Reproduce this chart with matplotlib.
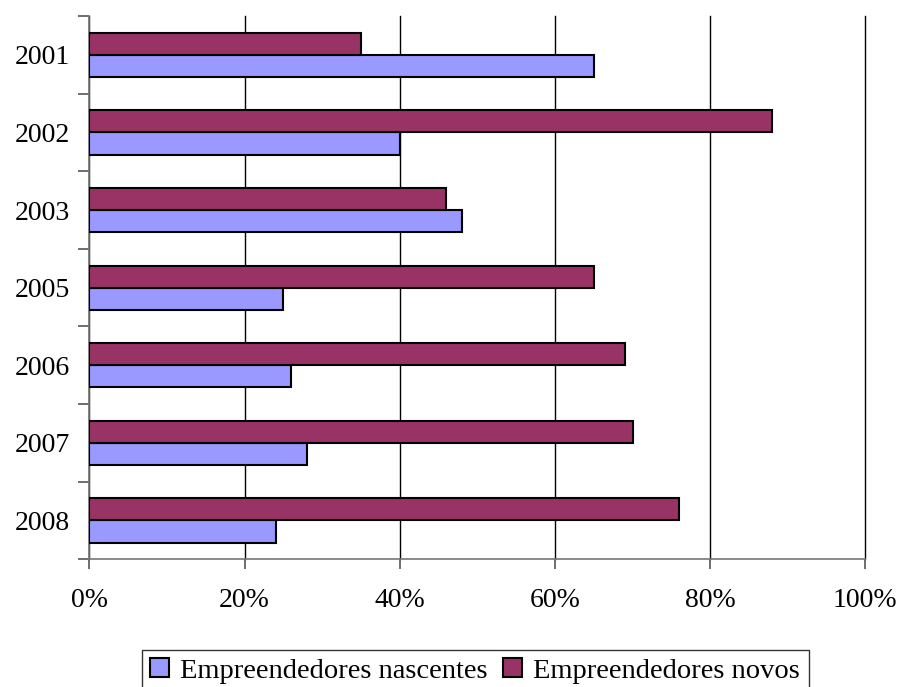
import numpy as np
import matplotlib.pyplot as plt
from matplotlib.ticker import FuncFormatter

# dados
anos = ['2001', '2002', '2003', '2005', '2006', '2007', '2008']
nascentes = [65, 40, 48, 25, 26, 28, 24]
novos = [35, 88, 46, 65, 69, 70, 76]

plt.rcParams['font.family'] = ['Liberation Serif', 'DejaVu Serif']

fig = plt.figure(figsize=(9, 6.87), dpi=100)
ax = fig.add_axes([0.0994, 0.1859, 0.862, 0.7908])

y = np.arange(len(anos))
h = 0.285
ax.barh(y + h / 2, nascentes, height=h, color='#9999ff', edgecolor='black',
        linewidth=1.5, label='Empreendedores nascentes', zorder=3)
ax.barh(y - h / 2, novos, height=h, color='#993366', edgecolor='black',
        linewidth=1.5, label='Empreendedores novos', zorder=3)

ax.set_xlim(0, 100)
ax.set_ylim(len(anos) - 0.5, -0.5)
ax.set_xticks(range(0, 101, 20))
ax.xaxis.set_major_formatter(FuncFormatter(lambda v, p: f'{v:.0f}%'))
ax.set_yticks(y)
ax.set_yticklabels(anos)
ax.set_yticks(np.arange(-0.5, len(anos)), minor=True)
ax.tick_params(axis='y', which='major', length=0, labelsize=20, pad=14)
ax.tick_params(axis='y', which='minor', length=8, color='#555555', width=1.2)
ax.tick_params(axis='x', length=7, color='#555555', width=1.2, labelsize=20, pad=14)
ax.grid(axis='x', color='black', linewidth=1, zorder=0)
for gl in ax.get_xgridlines():
    gl.set_clip_on(False)

for s in ['top', 'right']:
    ax.spines[s].set_visible(False)
for s in ['left', 'bottom']:
    ax.spines[s].set_color('#777777')
    ax.spines[s].set_linewidth(1.2)

leg = fig.legend(loc='lower center', bbox_to_anchor=(0.528, -0.02), ncol=2,
                 fontsize=20.5, frameon=True, fancybox=False, edgecolor='black',
                 handlelength=0.65, handleheight=0.65, handletextpad=0.4,
                 columnspacing=0.55, borderpad=0.3, borderaxespad=0.3)
leg.get_frame().set_linewidth(1)

plt.savefig('out.png', dpi=100)
